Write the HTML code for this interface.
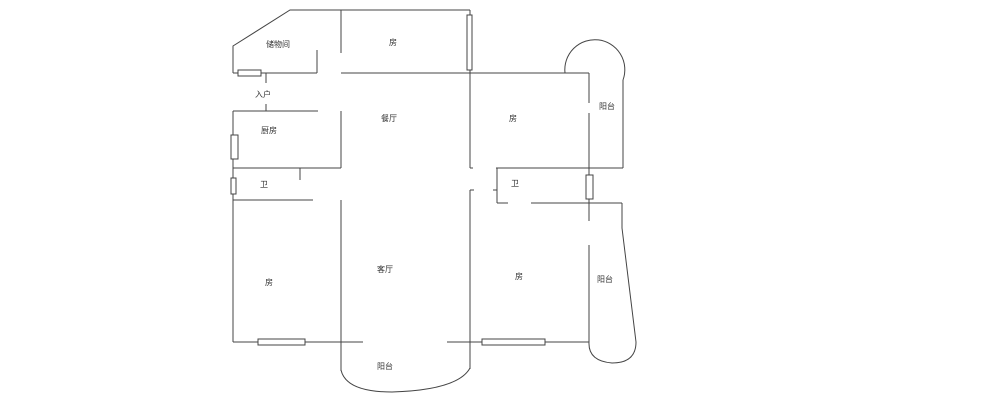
<!DOCTYPE html>
<html><head><meta charset="utf-8"><style>
html,body{margin:0;padding:0;background:#fff;}
svg{display:block}
text{font-family:"Liberation Sans","Noto Sans CJK SC",sans-serif;font-size:8px;fill:#333;text-anchor:middle}
</style></head><body>
<svg width="1000" height="406" viewBox="0 0 1000 406" xmlns="http://www.w3.org/2000/svg">
<g stroke="#444" stroke-width="1" fill="none">
<polyline points="233,73 233,46 290,10 470,10"/>
<line x1="233" y1="73" x2="317" y2="73"/>
<line x1="317" y1="50" x2="317" y2="73"/>
<rect x="238" y="70" width="23" height="6" fill="#fff"/>
<line x1="266" y1="73" x2="266" y2="83"/>
<line x1="266" y1="104" x2="266" y2="111"/>
<line x1="341" y1="10" x2="341" y2="53"/>
<line x1="341" y1="73" x2="589" y2="73"/>
<line x1="470" y1="10" x2="470" y2="168"/>
<line x1="470" y1="168" x2="473" y2="168"/>
<rect x="467" y="15" width="5" height="55" fill="#fff"/>
<path d="M565,73 A30,30 0 1 1 623,80"/>
<line x1="589" y1="73" x2="589" y2="103"/>
<line x1="589" y1="113" x2="589" y2="221"/>
<line x1="623" y1="80" x2="623" y2="168"/>
<line x1="496" y1="168" x2="623" y2="168"/>
<rect x="586" y="175" width="7" height="24" fill="#fff"/>
<line x1="497" y1="168" x2="497" y2="203"/>
<line x1="493" y1="190" x2="497" y2="190"/>
<line x1="497" y1="203" x2="508" y2="203"/>
<line x1="531" y1="203" x2="622" y2="203"/>
<line x1="470" y1="190" x2="474" y2="190"/>
<line x1="233" y1="111" x2="318" y2="111"/>
<line x1="341" y1="111" x2="341" y2="168"/>
<line x1="233" y1="111" x2="233" y2="342"/>
<rect x="231" y="135" width="7" height="24" fill="#fff"/>
<line x1="233" y1="168" x2="341" y2="168"/>
<line x1="300" y1="168" x2="300" y2="180"/>
<rect x="231" y="178" width="5" height="16" fill="#fff"/>
<line x1="233" y1="200" x2="313" y2="200"/>
<line x1="341" y1="200" x2="341" y2="371"/>
<line x1="233" y1="342" x2="363" y2="342"/>
<rect x="258" y="339" width="47" height="6" fill="#fff"/>
<line x1="447" y1="342" x2="589" y2="342"/>
<rect x="482" y="339" width="63" height="6" fill="#fff"/>
<line x1="470" y1="190" x2="470" y2="369"/>
<path d="M341,370 Q346,392 392,392 Q458,390 470,368"/>
<line x1="589" y1="245" x2="589" y2="342"/>
<polyline points="622,203 622,228 636,342"/>
<path d="M636,342 Q636,363 612,363 Q588,361 589,342"/>
</g>
<text x="278" y="47">储物间</text>
<text x="393" y="45">房</text>
<text x="263" y="97">入户</text>
<text x="389" y="121">餐厅</text>
<text x="513" y="121">房</text>
<text x="607" y="109">阳台</text>
<text x="269" y="133">厨房</text>
<text x="264" y="187">卫</text>
<text x="515" y="186">卫</text>
<text x="269" y="285">房</text>
<text x="385" y="272">客厅</text>
<text x="519" y="279">房</text>
<text x="605" y="282">阳台</text>
<text x="385" y="369">阳台</text>
</svg>
</body></html>
